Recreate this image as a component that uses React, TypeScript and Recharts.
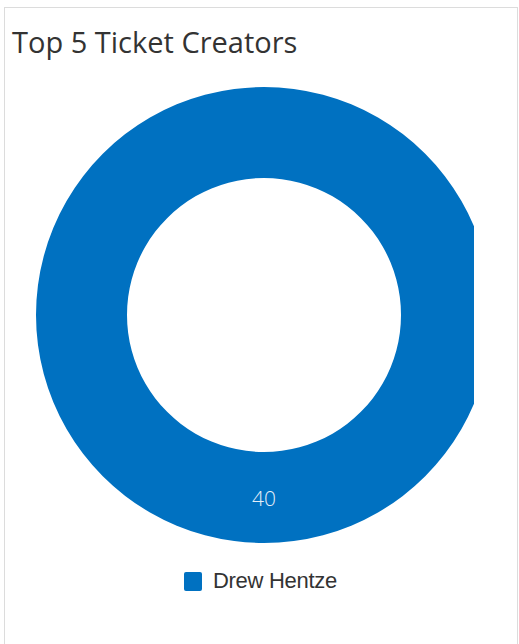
import { PieChart, Pie, Cell, Legend } from 'recharts';

const names = ['Drew Hentze'];
const counts = [40];
const COLORS = ['#0071c1'];

const chartData = names.map((name, i) => ({ name, value: counts[i] }));

const RADIAN = Math.PI / 180;

function renderLabel(props: any) {
  const { cx, cy, midAngle, innerRadius, outerRadius, value } = props;
  const r = (innerRadius + outerRadius) / 2;
  const x = cx + r * Math.cos(-midAngle * RADIAN);
  const y = cy + r * Math.sin(-midAngle * RADIAN);
  return (
    <text
      x={x}
      y={y}
      fill="#e4eef8"
      textAnchor="middle"
      dominantBaseline="central"
      fontFamily="'Open Sans', sans-serif"
      fontWeight={300}
      fontSize={21}
    >
      {value}
    </text>
  );
}

function renderLegend(props: any) {
  const { payload } = props;
  return (
    <div style={{ display: 'flex', alignItems: 'center' }}>
      {(payload || []).map((entry: any, i: number) => (
        <div key={`leg-${i}`} style={{ display: 'flex', alignItems: 'center' }}>
          <span
            style={{
              display: 'inline-block',
              width: 18,
              height: 19,
              borderRadius: 2,
              background: entry.color,
              marginRight: 11,
            }}
          />
          <span
            style={{
              fontFamily: "'Liberation Sans', Arial, sans-serif",
              fontSize: 22,
              letterSpacing: -0.3,
              color: '#333',
            }}
          >
            {entry.value}
          </span>
        </div>
      ))}
    </div>
  );
}

export default function App() {
  return (
    <div
      style={{
        position: 'absolute',
        left: 0,
        top: 0,
        width: 519,
        height: 644,
        background: '#fff',
        overflow: 'hidden',
      }}
    >
      {/* panel frame, no bottom edge */}
      <div
        style={{
          position: 'absolute',
          left: 4,
          top: 7,
          width: 512,
          height: 660,
          border: '1px solid #dcdcdc',
          borderBottom: 'none',
        }}
      />
      <div
        style={{
          position: 'absolute',
          left: 12,
          top: 22,
          fontFamily: "'Open Sans', sans-serif",
          fontSize: 29,
          color: '#333',
          lineHeight: '40px',
        }}
      >
        Top 5 Ticket Creators
      </div>
      <div style={{ position: 'absolute', left: 0, top: 0, width: 474, height: 644, overflow: 'hidden' }}>
        <PieChart width={474} height={644} margin={{ top: 0, right: 0, bottom: 0, left: 0 }}>
          <Pie
            data={chartData}
            dataKey="value"
            nameKey="name"
            cx={264}
            cy={315}
            innerRadius={137}
            outerRadius={228}
            startAngle={90}
            endAngle={450}
            stroke="none"
            labelLine={false}
            label={renderLabel}
            isAnimationActive={false}
          >
            {chartData.map((entry, index) => (
              <Cell key={`cell-${index}`} fill={COLORS[index % COLORS.length]} />
            ))}
          </Pie>
          <Legend
            content={renderLegend}
            wrapperStyle={{ position: 'absolute', left: 184, top: 568, width: 'auto', height: 'auto' }}
          />
        </PieChart>
      </div>
    </div>
  );
}
